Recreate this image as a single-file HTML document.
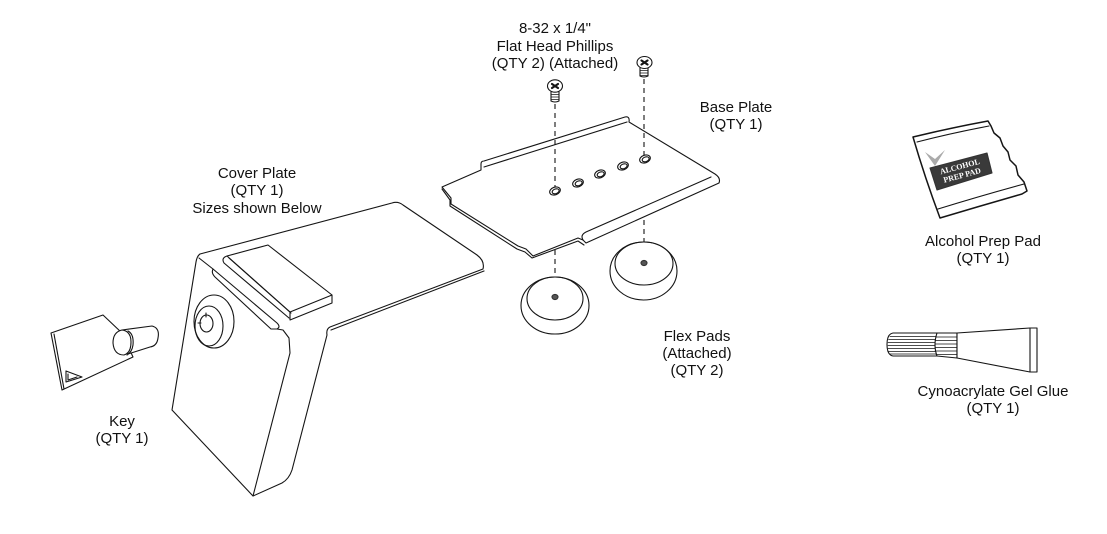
<!DOCTYPE html>
<html>
<head>
<meta charset="utf-8">
<style>
  html,body{margin:0;padding:0;background:#fff;}
  svg{display:block;}
  text{font-family:"Liberation Sans",Arial,sans-serif;font-size:15px;fill:#111;}
</style>
</head>
<body>
<svg width="1107" height="534" viewBox="0 0 1107 534" xmlns="http://www.w3.org/2000/svg">
  <g fill="none" stroke="#151515" stroke-width="1.1" stroke-linejoin="round" stroke-linecap="round">

    <!-- ========== COVER PLATE ========== -->
    <path fill="#fff" d="M200,254 L392,203 Q398,201 403,205 L477,255 Q485,261 483,269 L330,327 Q326,329 327,335 L292,470 Q289,479 282,483 L253,496 L172,410 L196,262 Q197,256 200,254 Z"/>
    <!-- plate thickness double line -->
    <path d="M484,271 L331,330"/>
    <!-- front face top edge / rail -->
    <path d="M199,258 L213,269"/>
    <path d="M213,269 L277,323 Q281,327 277,329 L271,329 L215,277 Q211,273 213,269 Z"/>
    <path d="M277,329 L283,330 L289,338 L290,353 L253,496"/>
    <!-- tab -->
    <path fill="#fff" d="M227,256 L268,245 L332,295 L290,312 Z"/>
    <path d="M290,312 L290,320 L332,303 L332,295"/>
    <path d="M227,256 Q221,258 224,263 L289,318"/>
    <path d="M229,258 L291,313"/>
    <!-- lock cylinder -->
    <ellipse cx="214" cy="321.5" rx="20" ry="26.5"/>
    <ellipse cx="209" cy="326" rx="14" ry="20"/>
    <ellipse cx="206.5" cy="323.5" rx="6.5" ry="8.5"/>
    <path d="M206,313 L206,317 M198,323 L201,323"/>

    <!-- ========== KEY ========== -->
    <path fill="#fff" d="M51,333 L103,315 L122,333 L133,357 L62,390 Z"/>
    <path d="M54,334 L64,389"/>
    <path d="M66,371 L66,382 L82,377 Z"/>
    <path d="M68,374 L68,380 L77,377"/>
    <!-- key cylinder -->
    <path fill="#fff" d="M122,330 L152,326 Q160,328 158,338 Q157,346 150,347 L128,354 Z"/>
    <path fill="#fff" d="M122,330 Q113,332 113,343 Q114,355 124,355 Q131,353 131,342 Q131,331 122,330 Z"/>
    <path d="M128,331 Q134,334 133,345 Q132,352 127,355"/>

    <!-- ========== BASE PLATE ========== -->
    <path fill="#fff" d="M442,187 L481,170 L481,164 Q481,161 484,161 L625,117 Q630,116 629,122 L715,174 Q721,178 719,183 L586,243 L583,240 L578,238 L533,256 L526,249 L518,246 L451,204 L451,198 Z"/>
    <path d="M442,189 L450,200 L450,206 L517,249 L525,252 L532,258 L578,241 L584,245"/>
    <path d="M484,167 L627,122"/>
    <path d="M711,177 L586,232 Q580,235 583,240"/>
    <!-- holes -->
    <g transform="rotate(-20 555 191)"><ellipse cx="555" cy="191" rx="5.5" ry="3.8"/><ellipse cx="555.5" cy="191.5" rx="3.6" ry="2.3"/></g>
    <g transform="rotate(-20 578 183)"><ellipse cx="578" cy="183" rx="5.5" ry="3.8"/><ellipse cx="578.5" cy="183.5" rx="3.6" ry="2.3"/></g>
    <g transform="rotate(-20 600 174)"><ellipse cx="600" cy="174" rx="5.5" ry="3.8"/><ellipse cx="600.5" cy="174.5" rx="3.6" ry="2.3"/></g>
    <g transform="rotate(-20 623 166)"><ellipse cx="623" cy="166" rx="5.5" ry="3.8"/><ellipse cx="623.5" cy="166.5" rx="3.6" ry="2.3"/></g>
    <g transform="rotate(-20 645 159)"><ellipse cx="645" cy="159" rx="5.5" ry="3.8"/><ellipse cx="645.5" cy="159.5" rx="3.6" ry="2.3"/></g>

    <!-- dashed center lines -->
    <g stroke-dasharray="5,4" stroke-linecap="butt">
      <path d="M555,104 L555,187"/>
      <path d="M555,250 L555,294"/>
      <path d="M644,79 L644,155"/>
      <path d="M644,220 L644,260"/>
    </g>

    <!-- screws -->
    <ellipse cx="555" cy="86" rx="7.5" ry="6.2" fill="#fff"/>
    <path d="M552,84 L558,88 M558,84 L552,88" stroke-width="2.2"/>
    <path d="M551,92 L551,101 Q555,103 559,101 L559,92"/>
    <path d="M551,94.5 L559,94.5 M551,97 L559,97 M551,99.5 L559,99.5" stroke-width="0.8"/>

    <ellipse cx="644.5" cy="62.5" rx="7.5" ry="6" fill="#fff"/>
    <path d="M641.5,60.5 L647.5,64.5 M647.5,60.5 L641.5,64.5" stroke-width="2.2"/>
    <path d="M640,68 L640,76 Q644,78 648,76 L648,68"/>
    <path d="M640,70.5 L648,70.5 M640,73 L648,73 M640,75.5 L648,75.5" stroke-width="0.8"/>

    <!-- ========== FLEX PADS ========== -->
    <ellipse cx="555" cy="305.5" rx="34" ry="28.5" fill="#fff"/>
    <ellipse cx="555" cy="298.5" rx="28" ry="21.5"/>
    <ellipse cx="555" cy="297" rx="3" ry="2.6" fill="#555" stroke="#333"/>

    <ellipse cx="643.5" cy="271" rx="33.5" ry="29" fill="#fff"/>
    <ellipse cx="644" cy="263.5" rx="29" ry="21.5"/>
    <ellipse cx="644" cy="263" rx="3" ry="2.6" fill="#555" stroke="#333"/>

    <!-- ========== ALCOHOL PREP PAD ========== -->
    <path stroke-width="1.5" fill="#fff" d="M913,137 Q950,128 988,121 L991,126 L994,133 L1000,138 L1003,146 L1008,152 L1010,160 L1016,166 L1018,175 L1024,182 L1027,191 L1022,194 Q980,206 940,218 Q925,178 913,137 Z"/>
    <path d="M917,142 Q952,133 989,126"/>
    <path d="M938,209 Q980,196 1024,184"/>
    <path d="M930,168 L987,153 L992,173 L937,190 Z" fill="#3a3a3a" stroke="#333"/>
    <path d="M925,152 L935,166 L945,150 L935,159 Z" fill="#aaa" stroke="none"/>

    <!-- ========== GLUE ========== -->
    <path fill="#fff" d="M893,333 L937,333 L937,356 L893,356 Q887,355 887,344.5 Q887,334 893,333 Z"/>
    <path d="M890,336.5 L936,336.5 M888.5,339.5 L936,339.5 M888,342.5 L936,342.5 M888,345.5 L936,345.5 M888,348.5 L936,348.5 M888.5,351.5 L936,351.5 M890,354 L936,354" stroke-width="0.7"/>
    <path fill="#fff" d="M937,333 L957,333 L957,358 L937,356 Q933,345 937,333 Z"/>
    <path d="M936,337 L957,337 M935,340.5 L957,340.5 M935,344 L957,344 M935,347.5 L957,347.5 M935,351 L957,351 M936,354.5 L957,354.5" stroke-width="0.7"/>
    <path fill="#fff" d="M957,333 L1030,328 L1037,328 L1037,372 L1030,372 L957,358 Z"/>
    <path d="M1030,328 L1030,372"/>
  </g>

  <!-- label text on prep pad -->
  <g transform="rotate(-15 961 171)">
    <text x="961" y="169" text-anchor="middle" style="font-family:'Liberation Serif',serif;font-size:8px;font-weight:bold;fill:#fff;">ALCOHOL</text>
    <text x="961" y="178" text-anchor="middle" style="font-family:'Liberation Serif',serif;font-size:8px;font-weight:bold;fill:#fff;">PREP PAD</text>
  </g>

  <!-- ========== LABELS ========== -->
  <g text-anchor="middle">
    <text x="555" y="33">8-32 x 1/4"</text>
    <text x="555" y="51">Flat Head Phillips</text>
    <text x="555" y="68">(QTY 2) (Attached)</text>

    <text x="736" y="112">Base Plate</text>
    <text x="736" y="129">(QTY 1)</text>

    <text x="257" y="178">Cover Plate</text>
    <text x="257" y="195">(QTY 1)</text>
    <text x="257" y="213">Sizes shown Below</text>

    <text x="697" y="341">Flex Pads</text>
    <text x="697" y="358">(Attached)</text>
    <text x="697" y="375">(QTY 2)</text>

    <text x="122" y="426">Key</text>
    <text x="122" y="443">(QTY 1)</text>

    <text x="983" y="246">Alcohol Prep Pad</text>
    <text x="983" y="263">(QTY 1)</text>

    <text x="993" y="396">Cynoacrylate Gel Glue</text>
    <text x="993" y="413">(QTY 1)</text>
  </g>
</svg>
</body>
</html>
